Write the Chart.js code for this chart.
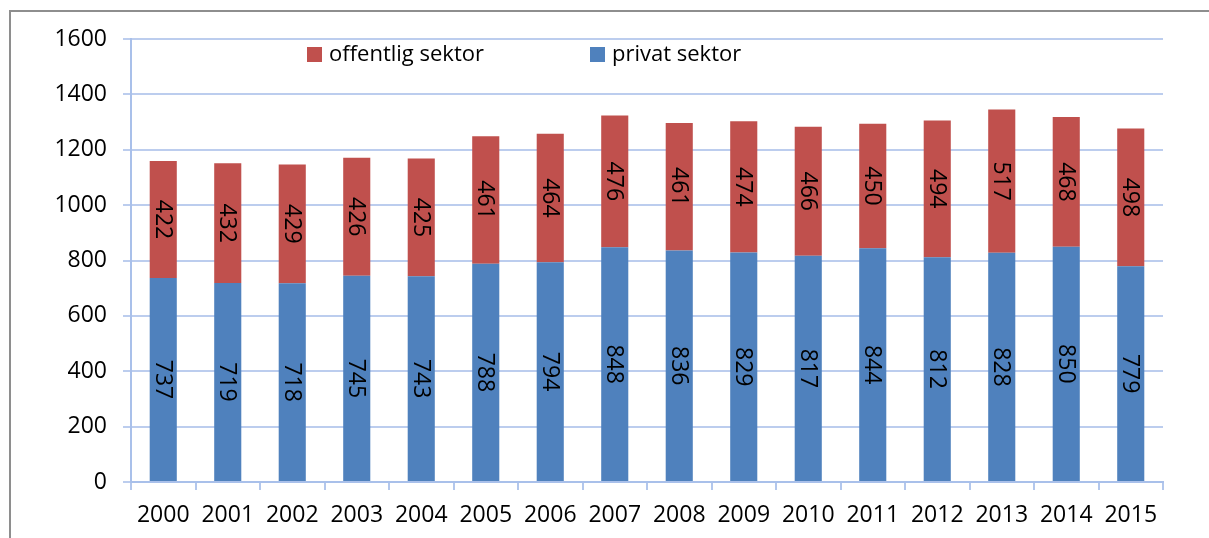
<!DOCTYPE html>
<html>
<head>
<meta charset="utf-8">
<script src="https://cdn.jsdelivr.net/npm/chart.js@4/dist/chart.umd.min.js"></script>
<style>
  html, body { margin: 0; padding: 0; background: #fff; }
  #wrap { position: relative; width: 1209px; height: 538px; overflow: hidden; }
  #frame { position: absolute; left: 9px; top: 10px; width: 1400px; height: 800px;
           border-left: 2px solid #8e8e8e; border-top: 2px solid #8e8e8e; }
  canvas { position: absolute; left: 0; top: 0; }
</style>
</head>
<body>
<div id="wrap">
  <div id="frame"></div>
  <canvas id="c" width="1209" height="538"></canvas>
</div>
<script>
const years = ['2000','2001','2002','2003','2004','2005','2006','2007','2008','2009','2010','2011','2012','2013','2014','2015'];
const privat = [737,719,718,745,743,788,794,848,836,829,817,844,812,828,850,779];
const offentlig = [422,432,429,426,425,461,464,476,461,474,466,450,494,517,468,498];
const yTicks = [0,200,400,600,800,1000,1200,1400,1600];

const FONT = '"Open Sans", sans-serif';
const FS = 23;
const LEGEND_FS = 22;

const barLabels = {
  id: 'barLabels',
  afterDatasetsDraw(chart) {
    const ctx = chart.ctx;
    ctx.save();
    ctx.font = FS + 'px ' + FONT;
    ctx.fillStyle = '#000';
    ctx.textAlign = 'center';
    ctx.textBaseline = 'middle';
    chart.data.datasets.forEach((ds, di) => {
      const meta = chart.getDatasetMeta(di);
      meta.data.forEach((el, i) => {
        const p = el.getProps(['x','y','base'], true);
        const cy = (p.y + p.base) / 2;
        ctx.save();
        ctx.translate(p.x, cy);
        ctx.rotate(Math.PI / 2);
        ctx.fillText(String(ds.data[i]), 0, 1);
        ctx.restore();
      });
    });
    ctx.restore();
  }
};

const legendInside = {
  id: 'legendInside',
  afterDraw(chart) {
    const ctx = chart.ctx;
    ctx.save();
    ctx.font = LEGEND_FS + 'px ' + FONT;
    ctx.textBaseline = 'middle';
    ctx.textAlign = 'left';
    const order = [1, 0];
    const xs = [307, 590];
    const y = 54.5;
    order.forEach((di, k) => {
      const ds = chart.data.datasets[di];
      ctx.fillStyle = ds.backgroundColor;
      ctx.fillRect(xs[k], y - 7.5, 15, 15);
      ctx.fillStyle = '#000';
      ctx.fillText(ds.label, xs[k] + 22, y);
    });
    ctx.restore();
  }
};

new Chart(document.getElementById('c'), {
  type: 'bar',
  data: {
    labels: years,
    datasets: [
      { label: 'privat sektor', data: privat, backgroundColor: '#4f81bd', borderWidth: 0 },
      { label: 'offentlig sektor', data: offentlig, backgroundColor: '#c0504d', borderWidth: 0 }
    ]
  },
  options: {
    responsive: false,
    animation: false,
    devicePixelRatio: 1,
    layout: { padding: { left: 0, top: 39, right: 46, bottom: 0 } },
    datasets: { bar: { categoryPercentage: 1, barPercentage: 0.42 } },
    plugins: { legend: { display: false }, tooltip: { enabled: false } },
    scales: {
      x: {
        stacked: true,
        afterFit(s) { s.height = 56; },
        grid: { display: true, drawOnChartArea: false, drawTicks: true, tickLength: 8, color: '#b3c7ec', lineWidth: 2, offset: true },
        border: { display: true, color: '#a9c0ea', width: 2 },
        ticks: { color: '#000', font: { family: FONT, size: FS }, padding: 12, maxRotation: 0 }
      },
      y: {
        stacked: true,
        min: 0, max: 1600,
        afterFit(s) { s.width = 131; },
        afterBuildTicks(s) { s.ticks = yTicks.map(v => ({ value: v })); },
        grid: { color: '#bccdee', lineWidth: 2, tickLength: 8 },
        border: { display: true, color: '#a9c0ea', width: 2 },
        ticks: { color: '#000', font: { family: FONT, size: FS }, padding: 16, callback: v => String(v) }
      }
    }
  },
  plugins: [barLabels, legendInside]
});
</script>
</body>
</html>
